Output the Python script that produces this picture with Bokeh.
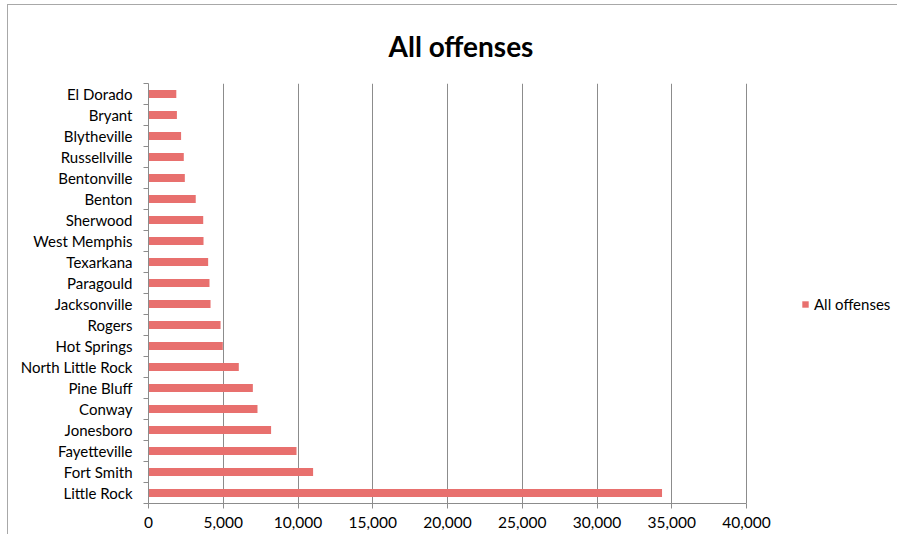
from bokeh.plotting import figure
from bokeh.models import (ColumnDataSource, Range1d, FixedTicker, NumeralTickFormatter,
                          Legend, LegendItem, Title)
from bokeh.embed import file_html
from bokeh.resources import INLINE

# Data (bottom to top, as drawn)
cities = ["Little Rock", "Fort Smith", "Fayetteville", "Jonesboro", "Conway",
          "Pine Bluff", "North Little Rock", "Hot Springs", "Rogers", "Jacksonville",
          "Paragould", "Texarkana", "West Memphis", "Sherwood", "Benton",
          "Bentonville", "Russellville", "Blytheville", "Bryant", "El Dorado"]
offenses = [34350, 11010, 9900, 8200, 7290,
            6980, 6040, 4970, 4820, 4150,
            4080, 3990, 3680, 3660, 3160,
            2430, 2360, 2180, 1900, 1860]
x_ticks = [0, 5000, 10000, 15000, 20000, 25000, 30000, 35000, 40000]
series_name = "All offenses"
chart_title = "All offenses"

FONT = "Lato"
n = len(cities)
pos = list(range(n))
source = ColumnDataSource(dict(y=pos, value=offenses, city=cities))

W, H = 890, 530
LEFT, RIGHT, TOP, BOTTOM = 140, 4, 77, 32
axis_px = 598  # pixel length of the 0..40000 axis
frame_w = W - LEFT - RIGHT
x_end = x_ticks[-1] * frame_w / axis_px  # extra blank room on the right for the legend

p = figure(width=W, height=H, output_backend="svg", toolbar_location=None,
           x_range=Range1d(0, x_end), y_range=Range1d(-0.5, n - 0.5),
           min_border_left=LEFT, min_border_right=RIGHT, min_border_top=TOP,
           min_border_bottom=BOTTOM)
p.styles = {"border-left": "1px solid #a8a8a8", "border-top": "1px solid #a8a8a8",
            "margin-left": "7px", "margin-top": "4px"}
p.outline_line_color = None
p.background_fill_color = "white"
p.border_fill_color = "white"

r = p.hbar(y="y", left=0, right="value", height=0.39, source=source,
           fill_color="#E8706E", line_color=None)

# title
t = Title(text=chart_title, align="left", offset=240, text_font=FONT,
          text_font_size="28px", text_font_style="bold", text_color="#000000",
          standoff=42)
p.title = t

# x axis
xa = p.xaxis[0]
xa.bounds = (x_ticks[0], x_ticks[-1])
xa.ticker = FixedTicker(ticks=x_ticks)
xa.formatter = NumeralTickFormatter(format="0,0")
xa.axis_line_color = "#8c8c8c"
xa.major_tick_line_color = "#8c8c8c"
xa.major_tick_out = 5
xa.major_tick_in = 0
xa.minor_tick_line_color = None
xa.major_label_text_font = FONT
xa.major_label_text_font_size = "15.5px"
xa.major_label_text_color = "#000000"
xa.major_label_standoff = 8

# y axis
ya = p.yaxis[0]
ya.ticker = FixedTicker(ticks=pos, minor_ticks=[i - 0.5 for i in range(n + 1)])
ya.major_label_overrides = {i: c for i, c in zip(pos, cities)}
ya.axis_line_color = "#8c8c8c"
ya.major_tick_line_color = None
ya.major_tick_out = 0
ya.major_tick_in = 0
ya.minor_tick_line_color = "#8c8c8c"
ya.minor_tick_out = 5
ya.minor_tick_in = 0
ya.major_label_text_font = FONT
ya.major_label_text_font_size = "15px"
ya.major_label_text_color = "#000000"
ya.major_label_standoff = 11

p.xgrid.ticker = FixedTicker(ticks=x_ticks[1:])
p.xgrid.grid_line_color = "#8c8c8c"
p.xgrid.grid_line_width = 1
p.ygrid.grid_line_color = None

legend = Legend(items=[LegendItem(label=series_name, renderers=[r])],
                location=(653, 190), orientation="vertical",
                glyph_width=8, glyph_height=8, label_standoff=5,
                padding=0, margin=0, spacing=0,
                label_text_font=FONT, label_text_font_size="15px",
                label_text_color="#000000", border_line_color=None,
                background_fill_alpha=0)
p.add_layout(legend, "center")

open("out.html", "w").write(file_html(p, INLINE))
